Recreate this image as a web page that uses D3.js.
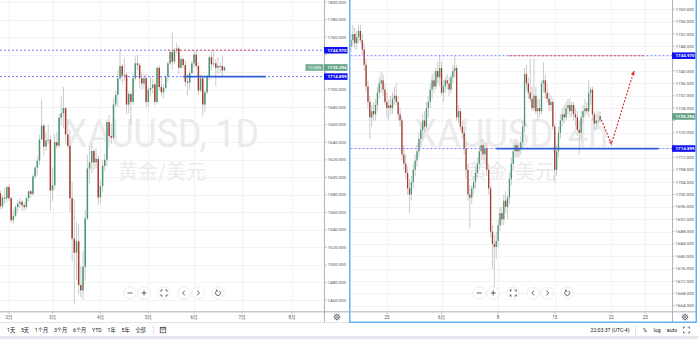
<!DOCTYPE html>
<html>
<head>
<meta charset="utf-8">
<script src="https://cdn.jsdelivr.net/npm/d3@7"></script>
<style>
html, body { margin: 0; padding: 0; background: #fff; }
svg { display: block; font-family: Roboto, "Noto Sans CJK SC", sans-serif; }
</style>
</head>
<body>
<div id="chart"></div>
<script>
// ---- data ----
// daily XAUUSD bars, [open, high, low, close], Jan 28 .. Jun 19
const dailyBars = [
  [1582,1585,1563,1567],[1567,1580,1564,1577],[1577,1588,1570,1576],[1576,1590,1571,1589],
  [1589,1592,1573,1576],[1576,1578,1548,1551],[1551,1563,1547,1556],[1556,1568,1554,1566],
  [1566,1574,1561,1570],[1570,1576,1565,1572],[1572,1574,1562,1568],[1568,1571,1562,1566],
  [1566,1578,1563,1576],[1576,1585,1572,1584],[1584,1586,1577,1581],[1581,1604,1579,1601],
  [1601,1613,1598,1611],[1611,1624,1602,1619],[1619,1649,1614,1643],[1643,1689,1643,1659],
  [1659,1661,1625,1635],[1635,1651,1630,1642],[1642,1660,1637,1643],[1643,1648,1562,1585],
  [1585,1611,1573,1591],[1591,1649,1586,1640],[1640,1652,1632,1636],[1636,1672,1634,1668],
  [1668,1692,1659,1673],[1673,1703,1656,1679],[1679,1680,1638,1649],[1649,1665,1632,1636],
  [1636,1654,1560,1576],[1576,1595,1504,1530],[1530,1575,1455,1514],[1514,1549,1483,1527],
  [1527,1547,1466,1477],[1477,1499,1463,1471],[1471,1516,1460,1498],[1498,1563,1482,1553],
  [1553,1626,1551,1610],[1610,1635,1593,1617],[1617,1637,1605,1630],[1630,1632,1608,1617],
  [1617,1633,1610,1621],[1621,1625,1568,1577],[1577,1597,1570,1590],[1590,1620,1583,1613],
  [1613,1627,1607,1620],[1620,1666,1613,1663],[1663,1671,1640,1647],[1647,1661,1638,1645],
  [1645,1690,1643,1683],[1683,1698,1680,1694],[1694,1722,1680,1713],[1713,1747,1710,1727],
  [1727,1729,1706,1716],[1716,1736,1710,1717],[1717,1720,1672,1683],[1683,1698,1673,1695],
  [1695,1697,1660,1686],[1686,1717,1683,1713],[1713,1738,1710,1730],[1730,1740,1722,1728],
  [1728,1730,1702,1713],[1713,1720,1700,1707],[1707,1718,1701,1713],[1713,1718,1680,1686],
  [1686,1703,1680,1700],[1700,1715,1692,1702],[1702,1712,1696,1706],[1706,1710,1682,1686],
  [1686,1726,1684,1725],[1725,1728,1699,1703],[1703,1715,1692,1697],[1697,1706,1690,1702],
  [1702,1717,1700,1715],[1715,1732,1709,1730],[1730,1745,1728,1743],[1743,1765,1723,1732],
  [1732,1748,1729,1745],[1745,1753,1741,1747],[1747,1750,1718,1725],[1725,1738,1724,1735],
  [1735,1736,1725,1728],[1728,1734,1704,1709],[1709,1718,1693,1708],[1708,1722,1700,1719],
  [1719,1733,1718,1730],[1730,1745,1725,1740],[1740,1745,1723,1727],[1727,1731,1694,1699],
  [1699,1717,1697,1713],[1713,1714,1670,1683],[1683,1700,1674,1697],[1697,1717,1695,1715],
  [1715,1739,1711,1737],[1737,1745,1722,1729],[1729,1745,1726,1730],[1730,1735,1704,1725],
  [1725,1737,1718,1727],[1727,1731,1719,1727],[1727,1738,1716,1722],[1722,1727,1721,1725.294]
];
// 4h XAUUSD bars, [open, high, low, close], ~May 20 .. Jun 18
const h4Bars = [
  [1748,1752,1746,1750],[1750,1755,1748,1752],[1752,1754,1747,1749],[1749,1753,1747,1751],
  [1751,1755,1749,1753],[1753,1755,1749,1750],[1750,1752,1745,1747],[1747,1749,1740,1742],
  [1742,1744,1733,1735],[1735,1737,1728,1730],[1730,1732,1718,1725],[1725,1729,1722,1727],
  [1727,1730,1724,1726],[1726,1731,1724,1729],[1729,1735,1727,1733],[1733,1738,1731,1736],
  [1736,1740,1733,1737],[1737,1739,1732,1734],[1734,1736,1729,1730],[1730,1733,1725,1728],
  [1728,1731,1724,1729],[1729,1732,1726,1728],[1728,1733,1726,1731],[1731,1735,1729,1732],
  [1732,1736,1729,1730],[1730,1732,1724,1726],[1726,1728,1722,1724],[1724,1725,1711,1713],
  [1713,1716,1708,1710],[1710,1713,1705,1707],[1707,1709,1700,1702],[1702,1705,1694,1700],
  [1700,1706,1698,1704],[1704,1710,1702,1708],[1708,1713,1706,1711],[1711,1716,1709,1714],
  [1714,1720,1712,1718],[1718,1723,1715,1721],[1721,1726,1718,1724],[1724,1727,1720,1722],
  [1722,1730,1721,1728],[1728,1732,1725,1730],[1730,1736,1728,1734],[1734,1739,1731,1737],
  [1737,1740,1733,1735],[1735,1741,1734,1740],[1740,1743,1736,1738],[1738,1745,1735,1741],
  [1741,1743,1732,1733],[1733,1737,1730,1735],[1735,1738,1733,1737],[1737,1739,1734,1736],
  [1736,1738,1732,1734],[1734,1739,1733,1738],[1738,1742,1736,1740],[1740,1745,1738,1741],
  [1741,1742,1724,1725],[1725,1729,1723,1727],[1727,1728,1721,1722],[1722,1724,1718,1720],
  [1720,1722,1713,1715],[1715,1717,1705,1708],[1708,1710,1698,1700],[1700,1703,1689,1699],
  [1699,1703,1697,1702],[1702,1706,1700,1704],[1704,1709,1702,1707],[1707,1712,1705,1710],
  [1710,1716,1708,1714],[1714,1718,1711,1716],[1716,1718,1711,1713],[1713,1717,1710,1715],
  [1715,1717,1706,1708],[1708,1710,1700,1702],[1702,1703,1686,1688],[1688,1690,1676,1684],
  [1684,1687,1670,1683],[1683,1688,1679,1685],[1685,1692,1683,1690],[1690,1696,1688,1694],
  [1694,1696,1690,1692],[1692,1700,1690,1698],[1698,1701,1694,1696],[1696,1700,1692,1699],
  [1699,1707,1697,1705],[1705,1712,1703,1710],[1710,1716,1708,1714],[1714,1718,1712,1716],
  [1716,1718,1712,1714],[1714,1717,1712,1715],[1715,1719,1713,1717],[1717,1724,1715,1722],
  [1722,1741,1720,1739],[1739,1742,1734,1736],[1736,1738,1731,1733],[1733,1744,1730,1731],
  [1731,1735,1727,1728],[1728,1744,1727,1732],[1732,1735,1726,1727],[1727,1731,1724,1728],
  [1728,1731,1725,1727],[1727,1737,1726,1736],[1736,1743,1733,1737],[1737,1739,1731,1733],
  [1733,1736,1730,1731],[1731,1733,1727,1729],[1729,1732,1727,1730],[1730,1731,1721,1722],
  [1722,1723,1704,1708],[1708,1716,1706,1714],[1714,1722,1712,1720],[1720,1726,1718,1724],
  [1724,1728,1722,1726],[1726,1729,1723,1725],[1725,1730,1724,1728],[1728,1731,1726,1729],
  [1729,1731,1725,1727],[1727,1730,1725,1729],[1729,1730,1724,1726],[1726,1728,1722,1725],
  [1725,1727,1719,1721],[1721,1724,1713,1720],[1720,1727,1718,1725],[1725,1729,1723,1727],
  [1727,1731,1725,1728],[1728,1730,1726,1727],[1727,1737,1725,1733],[1733,1735,1729,1734],
  [1734,1735,1724,1726],[1726,1727,1721,1723],[1723,1726,1721,1724],[1724,1727,1722,1724],
  [1724,1727,1723,1725.294]
];

// time-axis labels: [label, bar index]
const dailyTimeTicks = [["2月",4],["3月",24],["4月",46],["5月",68],["6月",89],["7月",111],["8月",134]];
const h4TimeTicks = [["25",19],["6月",48],["8",78],["15",108],["22",138],["25",156]];

const dailyPriceTicks = [1460,1480,1500,1520,1540,1560,1580,1600,1620,1640,1660,1680,1700,1720,1740,1760,1780,1800];
const h4PriceTicks = [1664,1668,1672,1676,1680,1684,1688,1692,1696,1700,1704,1708,1712,1716,1720,
  1724,1728,1732,1736,1740,1744,1748,1752,1756,1760];

const resistance = 1744.970;
const support = 1714.899;
const lastPrice = 1725.294;
const lastChange = "10.085";

// drawn segments, in bar indices
const dailyRedSeg = [76, 118], dailyBlueSeg = [84, 122];
const h4RedSeg = [83, 156], h4BlueSeg = [77, 163];
// forecast path on the 4h chart: [bar index, price]
const forecast = [[132, 1725.3], [138, 1716.4], [150, 1740.0]];

const rangeButtons = ["1天","5天","1个月","3个月","6个月","YTD","1年","5年","全部"];
const clockText = "22:03:37 (UTC-4)";
const scaleButtons = ["%", "log", "auto"];

// ---- style ----
const W = 698, H = 339;
const PLOT_BOTTOM = 311;
const PANEL_BOTTOM = 322;
const UP = "#4a9670", DOWN = "#a83a2e", WICK = "#cbcbcb";
const GRID = "#f1f3f7", AXIS_TEXT = "#50535e", LEVEL = "#7a7aff";
const BOX_BLUE = "#1414f0", BOX_GREEN = "#64a283";
const fmt = d3.format(".3f");

const svg = d3.select("#chart").append("svg").attr("width", W).attr("height", H);
svg.append("rect").attr("width", W).attr("height", H).attr("fill", "#fff");

function panel(cfg) {
  const { id, left, axisX, panelRight, bars, x, y, priceTicks, timeTicks, title, bodyW, redSeg, blueSeg } = cfg;

  svg.append("clipPath").attr("id", id).append("rect")
    .attr("x", left).attr("y", 0).attr("width", axisX - left).attr("height", PLOT_BOTTOM);
  const plot = svg.append("g").attr("clip-path", `url(#${id})`);

  // grid
  plot.append("g").selectAll("line").data(priceTicks).join("line")
    .attr("x1", left).attr("x2", axisX)
    .attr("y1", d => Math.round(y(d)) + 0.5).attr("y2", d => Math.round(y(d)) + 0.5)
    .attr("stroke", GRID);
  plot.append("g").selectAll("line").data(timeTicks).join("line")
    .attr("x1", d => Math.round(x(d[1])) + 0.5).attr("x2", d => Math.round(x(d[1])) + 0.5)
    .attr("y1", 0).attr("y2", PLOT_BOTTOM)
    .attr("stroke", GRID);

  // watermark
  const cx = (left + axisX) / 2;
  plot.append("text").attr("x", cx).attr("y", 147)
    .attr("text-anchor", "middle").attr("font-size", 39).attr("fill", "#ebebeb")
    .attr("textLength", 194).attr("lengthAdjust", "spacingAndGlyphs")
    .text(title);
  plot.append("text").attr("x", cx).attr("y", 179)
    .attr("text-anchor", "middle").attr("font-size", 20).attr("fill", "#ebebeb")
    .attr("font-family", "'Noto Sans CJK SC', sans-serif")
    .text("黄金/美元");

  // candles
  plot.append("g").selectAll("line").data(bars).join("line")
    .attr("x1", (d, i) => x(i)).attr("x2", (d, i) => x(i))
    .attr("y1", d => y(d[1])).attr("y2", d => y(d[2]))
    .attr("stroke", WICK).attr("stroke-width", 1);
  plot.append("g").selectAll("rect").data(bars).join("rect")
    .attr("x", (d, i) => x(i) - bodyW / 2)
    .attr("y", d => y(Math.max(d[0], d[3])))
    .attr("width", bodyW)
    .attr("height", d => Math.max(1, Math.abs(y(d[0]) - y(d[3]))))
    .attr("fill", d => d[3] >= d[0] ? UP : DOWN);

  // horizontal levels
  plot.append("g").selectAll("line").data([resistance, support]).join("line")
    .attr("x1", left).attr("x2", axisX)
    .attr("y1", d => y(d)).attr("y2", d => y(d))
    .attr("stroke", LEVEL).attr("stroke-width", 1).attr("stroke-dasharray", "2,2");
  plot.append("line")
    .attr("x1", x(redSeg[0])).attr("x2", x(redSeg[1]))
    .attr("y1", y(resistance)).attr("y2", y(resistance))
    .attr("stroke", "#e8606c").attr("stroke-width", 1.2)
    .attr("stroke-dasharray", "2,2").attr("stroke-dashoffset", 2);
  plot.append("line")
    .attr("x1", x(blueSeg[0])).attr("x2", x(blueSeg[1]))
    .attr("y1", y(support)).attr("y2", y(support))
    .attr("stroke", "#2f5fd8").attr("stroke-width", 1.8);

  // time axis
  const tg = svg.append("g");
  tg.append("line").attr("x1", left).attr("x2", panelRight)
    .attr("y1", PLOT_BOTTOM + 0.75).attr("y2", PLOT_BOTTOM + 0.75)
    .attr("stroke", "#c6c8cd").attr("stroke-width", 1.5);
  tg.selectAll("line.tk").data(timeTicks).join("line").attr("class", "tk")
    .attr("x1", d => x(d[1])).attr("x2", d => x(d[1]))
    .attr("y1", PLOT_BOTTOM + 1.5).attr("y2", PLOT_BOTTOM + 3)
    .attr("stroke", "#9598a1").attr("stroke-width", 0.6);
  tg.selectAll("text").data(timeTicks).join("text")
    .attr("x", d => x(d[1])).attr("y", 317).attr("dy", "0.35em")
    .attr("text-anchor", "middle").attr("font-size", 4.5).attr("fill", AXIS_TEXT)
    .text(d => d[0]);

  // price axis; tick labels hidden where a price box covers them
  const boxes = [
    { p: resistance, fill: BOX_BLUE },
    { p: support, fill: BOX_BLUE },
    { p: lastPrice, fill: BOX_GREEN }
  ];
  const shown = priceTicks.filter(t => boxes.every(b => Math.abs(y(t) - y(b.p)) > 6.2));
  const pg = svg.append("g");
  pg.append("line").attr("x1", axisX + 0.5).attr("x2", axisX + 0.5)
    .attr("y1", 0).attr("y2", PANEL_BOTTOM)
    .attr("stroke", "#b2b5be").attr("stroke-width", 1.1);
  pg.selectAll("line.tk").data(priceTicks).join("line").attr("class", "tk")
    .attr("x1", axisX + 1).attr("x2", axisX + 2.8)
    .attr("y1", d => y(d)).attr("y2", d => y(d))
    .attr("stroke", "#9598a1").attr("stroke-width", 0.6);
  pg.selectAll("text").data(shown).join("text")
    .attr("x", axisX + 3.6).attr("y", d => y(d)).attr("dy", "0.35em")
    .attr("font-size", 4.4).attr("fill", AXIS_TEXT)
    .text(d => fmt(d));

  const bw = panelRight - axisX - 1.5;
  boxes.forEach(b => {
    pg.append("rect").attr("x", axisX).attr("y", y(b.p) - 3.3)
      .attr("width", bw).attr("height", 6.6).attr("fill", b.fill);
    pg.append("text").attr("x", axisX + 3.6).attr("y", y(b.p)).attr("dy", "0.35em")
      .attr("font-size", 4.4).attr("font-weight", "bold").attr("fill", "#fff")
      .text(fmt(b.p));
  });
  if (cfg.changeBox) {
    pg.append("rect").attr("x", axisX - 18.5).attr("y", y(lastPrice) - 3.3)
      .attr("width", 18).attr("height", 6.6).attr("fill", "#74ad90");
    pg.append("text").attr("x", axisX - 9.5).attr("y", y(lastPrice)).attr("dy", "0.35em")
      .attr("text-anchor", "middle").attr("font-size", 4.4).attr("fill", "#fff")
      .text(lastChange);
  }

  // gear in the axis corner
  gear((axisX + panelRight) / 2 + 0.5, 317);
  navButtons(cx);
  return plot;
}

function gear(gx, gy) {
  const g = svg.append("g").attr("transform", `translate(${gx},${gy})`)
    .attr("stroke", "#50535e").attr("fill", "none");
  g.append("circle").attr("r", 2.3).attr("stroke-width", 0.9);
  g.append("circle").attr("r", 0.8).attr("stroke-width", 0.6);
  d3.range(8).forEach(k => {
    const a = k * Math.PI / 4;
    g.append("line").attr("x1", 2.3 * Math.cos(a)).attr("y1", 2.3 * Math.sin(a))
      .attr("x2", 3.3 * Math.cos(a)).attr("y2", 3.3 * Math.sin(a)).attr("stroke-width", 1);
  });
}

const NAV_ICONS = [
  "M-2.5,0H2.5",
  "M-2.5,0H2.5M0,-2.5V2.5",
  "M-3,-1.3V-3H-1.3M1.3,-3H3V-1.3M3,1.3V3H1.3M-1.3,3H-3V1.3",
  "M0.8,-2.4L-1.4,0L0.8,2.4",
  "M-0.8,-2.4L1.4,0L-0.8,2.4",
  "M-1.4,-2.1A2.5,2.5 0 1 0 1.2,-2.2M-1.4,-2.1L-1.6,-3.6M-1.4,-2.1L0,-1.6"
];
const NAV_OFFSETS = [-32, -18, 2, 22, 36, 56];

function navButtons(cx) {
  const g = svg.append("g");
  NAV_OFFSETS.forEach((o, k) => {
    const bx = cx + o, by = 293;
    g.append("circle").attr("cx", bx).attr("cy", by).attr("r", 6.2)
      .attr("fill", "#fff").attr("stroke", "#e6e7ea").attr("stroke-width", 0.8);
    g.append("path").attr("transform", `translate(${bx},${by})`)
      .attr("d", NAV_ICONS[k]).attr("fill", "none")
      .attr("stroke", "#3c3f47").attr("stroke-width", 0.8);
  });
}

// ---- left panel: daily ----
const xD = d3.scaleLinear().domain([0, 134]).range([0.29, 292]);
const yD = d3.scaleLinear().domain([1460, 1800]).range([300, 2]);
panel({
  id: "clipD", left: 0, axisX: 324, panelRight: 349,
  bars: dailyBars, x: xD, y: yD,
  priceTicks: dailyPriceTicks, timeTicks: dailyTimeTicks,
  title: "XAUUSD, 1D", bodyW: 1.5,
  redSeg: dailyRedSeg, blueSeg: dailyBlueSeg, changeBox: true
});

// ---- right panel: 4h ----
const xH = d3.scaleLinear().domain([0, 132]).range([351, 600]);
const yH = d3.scaleLinear().domain([1664, 1760]).range([305.7, 9.3]);
const plotH = panel({
  id: "clipH", left: 350.5, axisX: 672, panelRight: 697,
  bars: h4Bars, x: xH, y: yH,
  priceTicks: h4PriceTicks, timeTicks: h4TimeTicks,
  title: "XAUUSD, 4h", bodyW: 1.3,
  redSeg: h4RedSeg, blueSeg: h4BlueSeg, changeBox: false
});

// forecast path with arrow heads
const fpts = forecast.map(d => [xH(d[0]), yH(d[1])]);
plotH.append("path").attr("d", d3.line()(fpts))
  .attr("fill", "none").attr("stroke", "#e02424").attr("stroke-width", 1.1)
  .attr("stroke-dasharray", "2,1.5");
function arrowHead(from, to, size) {
  const a = Math.atan2(to[1] - from[1], to[0] - from[0]);
  const p1 = [to[0] - size * Math.cos(a - 0.45), to[1] - size * Math.sin(a - 0.45)];
  const p2 = [to[0] - size * Math.cos(a + 0.45), to[1] - size * Math.sin(a + 0.45)];
  plotH.append("path").attr("d", `M${to}L${p1}L${p2}Z`).attr("fill", "#e02424");
}
arrowHead(fpts[0], fpts[1], 3);
arrowHead(fpts[1], fpts[2], 4.5);

// ---- panel borders and bottom toolbar ----
svg.append("line").attr("x1", 0).attr("x2", 349).attr("y1", PANEL_BOTTOM + 0.5).attr("y2", PANEL_BOTTOM + 0.5)
  .attr("stroke", "#e0e3eb");
svg.append("rect").attr("x", 349.75).attr("y", -1).attr("width", 346.5).attr("height", PANEL_BOTTOM + 1.25)
  .attr("fill", "none").attr("stroke", "#64b0f4").attr("stroke-width", 1.5);
svg.append("rect").attr("x", 0).attr("y", 336).attr("width", W).attr("height", 3).attr("fill", "#e3e6ec");

const tb = svg.append("g").attr("font-size", 5.2).attr("fill", "#131722");
let bx = 7;
rangeButtons.forEach(t => {
  const el = tb.append("text").attr("x", bx).attr("y", 330).attr("dy", "0.35em").text(t);
  bx += el.node().getComputedTextLength() + 5.8;
});
tb.append("line").attr("x1", 153.5).attr("x2", 153.5).attr("y1", 325).attr("y2", 335).attr("stroke", "#e0e3eb");
const cal = tb.append("g").attr("transform", "translate(163,330)").attr("fill", "none")
  .attr("stroke", "#3c3f47").attr("stroke-width", 0.7);
cal.append("rect").attr("x", -2.8).attr("y", -2.6).attr("width", 5.6).attr("height", 5.4);
cal.append("path").attr("d", "M-2.8,-1H2.8M-1.2,-3.4V-1.8M1.2,-3.4V-1.8M-0.8,1.2L0.6,0.2");

tb.append("text").attr("x", 629.5).attr("y", 330).attr("dy", "0.35em")
  .attr("text-anchor", "end").text(clockText);
tb.append("line").attr("x1", 635.5).attr("x2", 635.5).attr("y1", 325).attr("y2", 335).attr("stroke", "#e0e3eb");
[645, 657, 672].forEach((sx, k) => {
  tb.append("text").attr("x", sx).attr("y", 330).attr("dy", "0.35em")
    .attr("text-anchor", "middle").text(scaleButtons[k]);
});
tb.append("path").attr("transform", "translate(686.5,330)")
  .attr("d", NAV_ICONS[2]).attr("fill", "none").attr("stroke", "#3c3f47").attr("stroke-width", 0.7);
</script>
</body>
</html>
